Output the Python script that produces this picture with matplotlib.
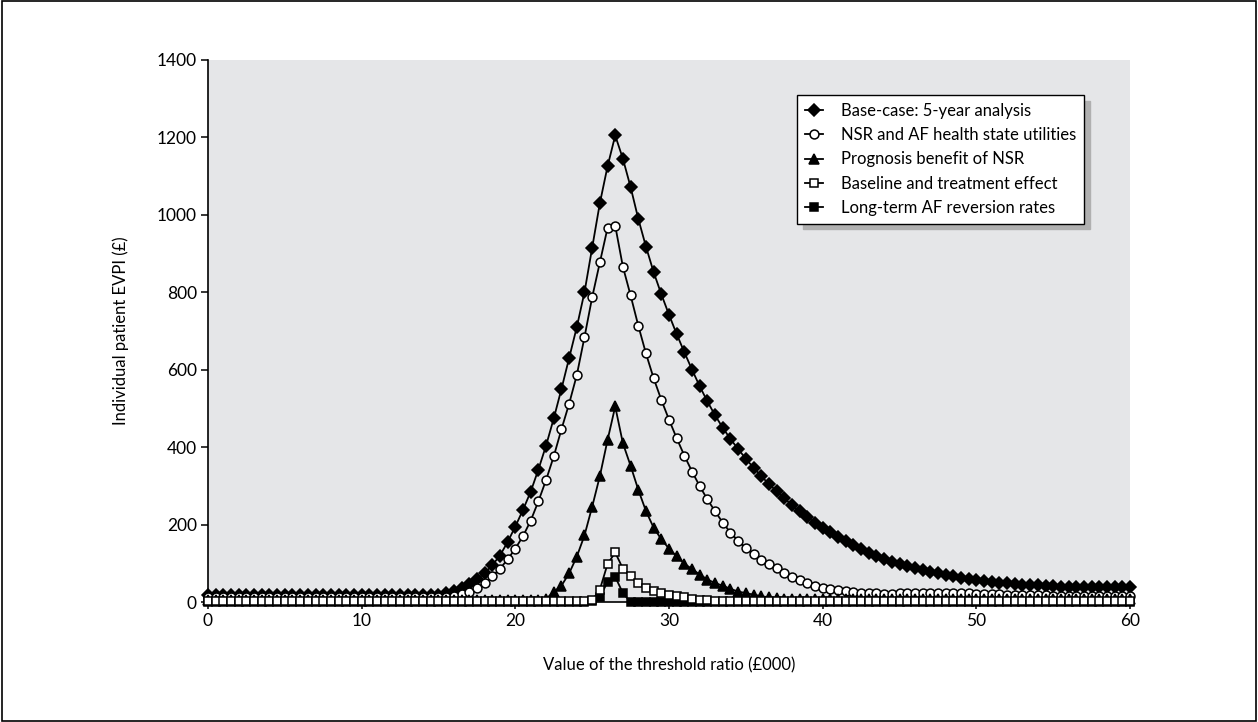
import numpy as np
import matplotlib
matplotlib.use("Agg")
import matplotlib.pyplot as plt
from matplotlib.patches import Rectangle

plt.rcParams['font.family'] = ['Lato', 'DejaVu Sans']

# Threshold ratio (£000), one point every £500
threshold = np.arange(0, 60.01, 0.5)

# Individual patient EVPI (£) for each scenario
base_case = ([18] * 20 + [17] * 10 +
             [17, 22, 29, 36, 47, 59, 74, 95, 120, 155,
              195, 238, 285, 342, 404, 474, 550, 630, 710, 800,
              915, 1030, 1125, 1205, 1145, 1072, 990, 918, 852, 795,
              742, 692, 645, 600, 557, 518, 482, 450, 421, 395,
              370, 347, 325, 305, 286, 268, 250, 234, 219, 205,
              192, 180, 168, 157, 146, 136, 127, 119, 111, 104,
              98, 92, 87, 82, 78, 74, 70, 66, 63, 60,
              57, 54, 52, 50, 48, 46, 45, 44, 43, 42,
              41, 40, 40, 40, 40, 40, 40, 40, 40, 40,
              40])

nsr_utilities = ([12] * 30 +
                 [12, 13, 16, 20, 26, 35, 49, 66, 86, 110,
                  138, 170, 210, 260, 315, 376, 446, 512, 586, 684,
                  787, 877, 966, 972, 866, 792, 714, 642, 578, 522,
                  471, 423, 378, 337, 299, 265, 234, 205, 179, 158,
                  139, 124, 109, 97, 87, 76, 65, 56, 48, 42,
                  37, 33, 30, 28, 26, 24, 23, 22, 21, 21,
                  22, 22, 22, 22, 22, 22, 22, 22, 22, 22,
                  21, 21, 20, 20, 19, 19, 18, 18, 17, 17,
                  16, 16, 16, 16, 16, 16, 16, 16, 16, 16,
                  16])

prognosis = ([5] * 44 +
             [8, 26, 42, 74, 117, 172, 246, 325, 418, 505,
              410, 352, 290, 235, 192, 162, 138, 118, 99, 85,
              71, 58, 49, 42, 34, 27, 23, 19, 15, 12,
              10] +
             [8] * 46)

baseline_treatment = ([2] * 50 +
                      [4, 32, 98, 128, 86, 66, 48, 36, 29, 23,
                       19, 15, 12, 9, 6, 4] +
                      [2] * 55)

af_reversion = ([0] * 50 +
                [2, 12, 52, 65, 23] +
                [0] * 66)

labels = ['Base-case: 5-year analysis',
          'NSR and AF health state utilities',
          'Prognosis benefit of NSR',
          'Baseline and treatment effect',
          'Long-term AF reversion rates']

fig = plt.figure(figsize=(12.58, 7.22), dpi=100)
ax = fig.add_axes([0.1653, 0.1662, 0.733, 0.7507])
ax.set_facecolor('#e5e6e8')

common = dict(color='black', lw=1.3, mec='black', mew=1.1, clip_on=False)
h1, = ax.plot(threshold, base_case, marker='D', ms=6.0, mfc='black', zorder=3, **common)
h2, = ax.plot(threshold, nsr_utilities, marker='o', ms=6.4, mfc='white', zorder=4, **common)
h3, = ax.plot(threshold, prognosis, marker='^', ms=6.8, mfc='black', zorder=5, **common)
h5, = ax.plot(threshold, af_reversion, marker='s', ms=6.0, mfc='black', zorder=6, **common)
h4, = ax.plot(threshold, baseline_treatment, marker='s', ms=6.0, mfc='white', zorder=7, **common)

ax.set_xlim(0, 60)
ax.set_ylim(0, 1400)
ax.set_xticks(range(0, 61, 10))
ax.set_yticks(range(0, 1401, 200))
for s in ['top', 'right']:
    ax.spines[s].set_visible(False)
for s in ['left', 'bottom']:
    ax.spines[s].set_linewidth(1.2)
ax.tick_params(direction='out', length=5, width=1.1, labelsize=12.5, pad=3)

ax.set_xlabel('Value of the threshold ratio (£000)', fontsize=12, labelpad=20)
ax.set_ylabel('Individual patient EVPI (£)', fontsize=12, labelpad=20)

leg = ax.legend([h1, h2, h3, h4, h5], labels, loc='upper left',
                bbox_to_anchor=(0.639, 0.935), borderaxespad=0, fontsize=12,
                frameon=True, fancybox=False, framealpha=1, edgecolor='black',
                handlelength=1.1, handletextpad=1.1, borderpad=0.45,
                labelspacing=0.5,
                shadow={'ox': 4, 'oy': -4, 'color': '#b0b0b0', 'alpha': 1})
leg.get_frame().set_linewidth(1.0)

# outer frame around the whole figure
fig.patches.append(Rectangle((0.0015, 0.002), 0.997, 0.996, transform=fig.transFigure,
                             fill=False, edgecolor='black', lw=1.2))

fig.savefig('out.png', dpi=100)
